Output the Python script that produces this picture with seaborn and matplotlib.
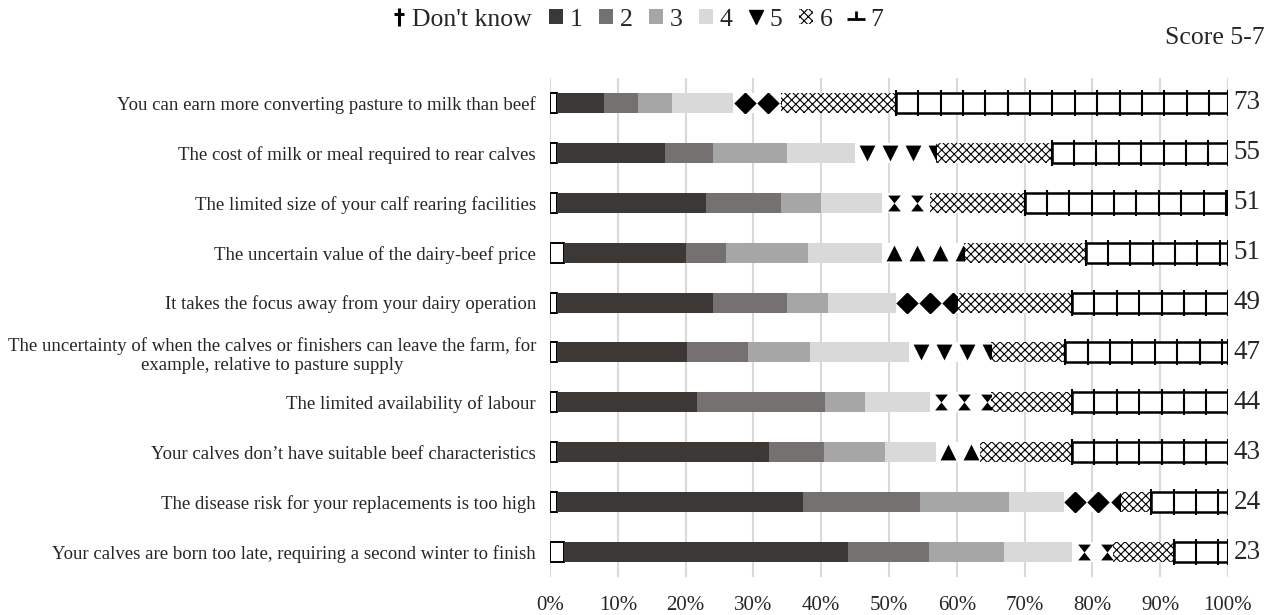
import numpy as np
import matplotlib
matplotlib.use("Agg")
import matplotlib.pyplot as plt
from matplotlib.path import Path
from matplotlib.lines import Line2D
from matplotlib.patches import Patch
import seaborn as sns

# Barriers to rearing dairy-beef calves: share of respondents per agreement score
statements = [
    "You can earn more converting pasture to milk than beef",
    "The cost of milk or meal required to rear calves",
    "The limited size of your calf rearing facilities",
    "The uncertain value of the dairy-beef price",
    "It takes the focus away from your dairy operation",
    "The uncertainty of when the calves or finishers can leave the farm, for\nexample, relative to pasture supply",
    "The limited availability of labour",
    "Your calves don\u2019t have suitable beef characteristics",
    "The disease risk for your replacements is too high",
    "Your calves are born too late, requiring a second winter to finish",
]
score_names = ["Don't know", "1", "2", "3", "4", "5", "6", "7"]
dont_know = [1, 1, 1, 2, 1, 1, 1, 1, 1, 2]
score_1 = [7, 16, 22, 18, 23, 19.2, 20.7, 31.3, 36.3, 42]
score_2 = [5, 7, 11, 6, 11, 9, 18.9, 8.1, 17.3, 11.9]
score_3 = [5, 11, 6, 12, 6, 9.1, 5.9, 9, 13.1, 11.1]
score_4 = [9, 10, 9, 11, 10, 14.7, 9.5, 7.6, 8.1, 10]
score_5 = [7, 12, 7, 12, 9, 12, 9, 6.4, 8.2, 6]
score_6 = [17, 17, 14, 18, 17, 11, 12, 13.6, 4.7, 9]
score_7 = [49, 26, 30, 21, 23, 24, 23, 23, 11.3, 8]
x_ticks = [0, 10, 20, 30, 40, 50, 60, 70, 80, 90, 100]

segments = [dont_know, score_1, score_2, score_3, score_4, score_5, score_6, score_7]
top_box = np.round(np.array(score_5) + np.array(score_6) + np.array(score_7)).astype(int)

sns.set_theme(style="white")
plt.rcParams["font.family"] = ["Liberation Serif", "DejaVu Serif"]
plt.rcParams["hatch.linewidth"] = 0.8

fig, ax = plt.subplots(figsize=(12.67, 6.15), dpi=100)
fig.subplots_adjust(left=0.4341, right=0.9692, top=0.8732, bottom=0.0618)

dark = "#3b3836"
styles = [
    dict(color="white", edgecolor="black", linewidth=1.4),        # Don't know
    dict(color=dark, linewidth=0),                                  # 1
    dict(color="#767171", linewidth=0),                             # 2
    dict(color="#a6a6a6", linewidth=0),                             # 3
    dict(color="#d9d9d9", linewidth=0),                             # 4
    dict(color="white", linewidth=0),                               # 5
    dict(color="white", edgecolor="black", linewidth=0, hatch="xxxx"),  # 6
    dict(color="white", edgecolor="black", linewidth=1.8),          # 7
]

bar_h = 0.4
lefts = np.zeros(len(statements))
containers = []
for vals, st in zip(segments, styles):
    sns.barplot(x=vals, y=statements, orient="y", left=lefts.copy(),
                width=bar_h, saturation=1, errorbar=None, ax=ax, **st)
    containers.append(ax.containers[-1])
    lefts = lefts + np.array(vals)

# Score 5: repeating black glyphs inside white bars
hourglass = Path([(-0.8, 1), (0.8, 1), (0, 0), (0.8, -1), (-0.8, -1), (0, 0), (-0.8, 1)],
                 [Path.MOVETO, Path.LINETO, Path.LINETO, Path.LINETO, Path.LINETO,
                  Path.LINETO, Path.CLOSEPOLY])
row_markers = ["D", "v", hourglass, "^", "D", "v", hourglass, "^", "D", hourglass]
start5 = np.sum(segments[:5], axis=0)
spacing5 = 3.4
for i, (l, w) in enumerate(zip(start5, score_5)):
    n = int(np.ceil(w / spacing5))
    xs = l + spacing5 * (np.arange(n) + 0.5)
    sc = ax.scatter(xs, np.full(n, i), marker=row_markers[i], s=130, color="black",
                    linewidths=0, zorder=3)
    sc.set_clip_path(containers[5].patches[i])

# Score 7: brick-style dividers
start7 = np.sum(segments[:7], axis=0)
spacing7 = 3.3
ext = 0.06
for i, (l, w) in enumerate(zip(start7, score_7)):
    xs = np.arange(l, l + w, spacing7)
    ax.vlines(xs, i - bar_h / 2 - ext, i + bar_h / 2 + ext, color="black", lw=1.5, zorder=3)
    ax.vlines([l + w], i - bar_h / 2 - ext, i + bar_h / 2 + ext, color="black", lw=1.5, zorder=3)

# Top-box totals at the end of each bar
for i, v in enumerate(top_box):
    ax.annotate(str(v), xy=(100, i), xytext=(4, 0), textcoords="offset points",
                ha="left", va="center", fontsize=19.5, annotation_clip=False)

ax.set_xlim(0, 100)
ax.set_ylim(len(statements) - 0.5, -0.5)
ax.set_xticks(x_ticks)
ax.set_xticklabels([f"{t}%" for t in x_ticks], fontsize=15)
ax.tick_params(axis="x", length=0, pad=14)
ax.tick_params(axis="y", length=0, pad=10, labelsize=13.5)
for lab in ax.get_yticklabels():
    lab.set_multialignment("center")
ax.set_xlabel("")
ax.set_ylabel("")
ax.grid(axis="x", color="#d9d9d9", linewidth=1.5)
ax.set_axisbelow(True)
for s in ax.spines.values():
    s.set_visible(False)

# Legend
dagger = Path([(-0.55, 0.35), (0.55, 0.35), (0, -1), (0, 1)],
              [Path.MOVETO, Path.LINETO, Path.MOVETO, Path.LINETO])
perp = Path([(-1, -0.2), (1, -0.2), (0, -0.2), (0, 0.7)],
            [Path.MOVETO, Path.LINETO, Path.MOVETO, Path.LINETO])
handles = [
    Line2D([], [], marker=dagger, color="black", linestyle="none", markersize=13, mew=2.2),
    Patch(facecolor=dark, linewidth=0),
    Patch(facecolor="#767171", linewidth=0),
    Patch(facecolor="#a6a6a6", linewidth=0),
    Patch(facecolor="#d9d9d9", linewidth=0),
    Line2D([], [], marker="v", color="black", linestyle="none", markersize=10),
    Patch(facecolor="white", edgecolor="black", linewidth=0, hatch="xxxx"),
    Line2D([], [], marker=perp, color="black", linestyle="none", markersize=13, mew=2.0),
]
fig.legend(handles, score_names, loc="center", bbox_to_anchor=(0.503, 0.968), ncol=8,
           frameon=False, fontsize=18.5, handlelength=0.55, handleheight=0.55,
           handletextpad=0.25, columnspacing=0.65)

fig.text(0.998, 0.938, "Score 5-7", ha="right", va="center", fontsize=18.5)

fig.savefig("out.png", dpi=100)
